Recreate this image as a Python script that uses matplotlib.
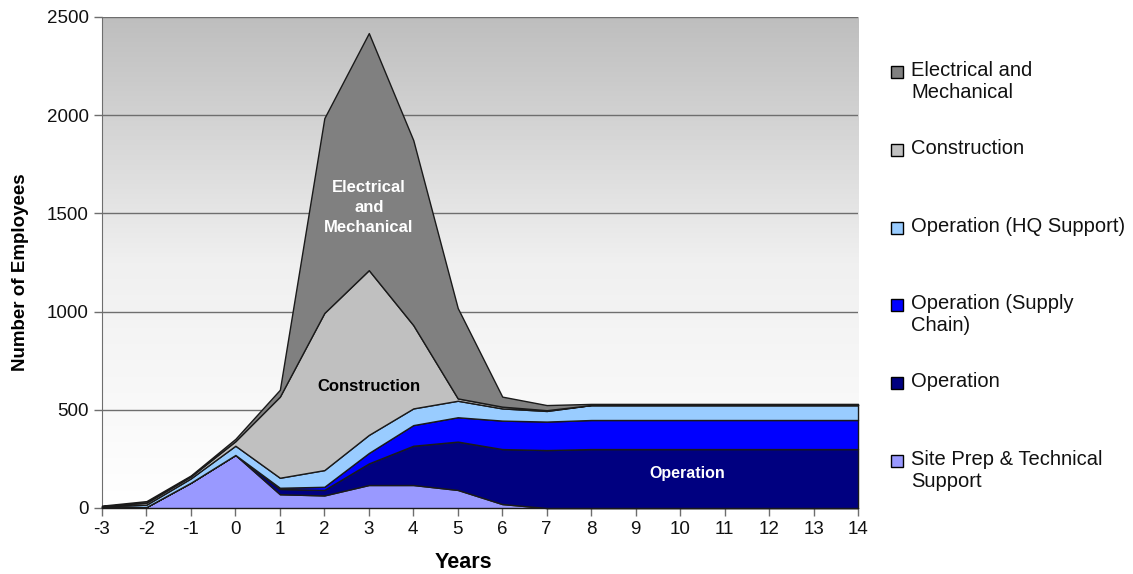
import matplotlib
matplotlib.use('Agg')
import matplotlib.pyplot as plt
from matplotlib.patches import Rectangle
import numpy as np

plt.rcParams['font.family'] = ['Liberation Sans', 'DejaVu Sans']
plt.rcParams['axes.unicode_minus'] = False

years = list(range(-3, 15))

site_prep = [3, 5, 129, 270, 70, 64, 117, 117, 92, 20, 0, 0, 0, 0, 0, 0, 0, 0]
operation = [0, 0, 0, 0, 27, 28, 110, 200, 246, 280, 295, 300, 300, 300, 300, 300, 300, 300]
supply_chain = [0, 0, 0, 0, 6, 16, 53, 105, 124, 145, 145, 148, 148, 148, 148, 148, 148, 148]
hq_support = [4, 12, 22, 47, 51, 85, 92, 85, 84, 62, 54, 76, 76, 76, 76, 76, 76, 76]
construction = [2, 10, 10, 23, 413, 800, 839, 424, 12, 9, 4, 0, 0, 0, 0, 0, 0, 0]
elec_mech = [3, 8, 5, 12, 35, 992, 1207, 942, 460, 51, 26, 6, 6, 6, 6, 6, 6, 6]

series = [site_prep, operation, supply_chain, hq_support, construction, elec_mech]
colors = ['#9999FF', '#000080', '#0000FF', '#99CCFF', '#C0C0C0', '#808080']
legend_labels = ['Electrical and\nMechanical', 'Construction', 'Operation (HQ Support)',
                 'Operation (Supply\nChain)', 'Operation', 'Site Prep & Technical\nSupport']
legend_colors = ['#808080', '#C0C0C0', '#99CCFF', '#0000FF', '#000080', '#9999FF']

fig = plt.figure(figsize=(11.33, 5.74), dpi=100)
fig.patch.set_facecolor('#FFFFFF')
ax = fig.add_axes([0.0900, 0.1150, 0.6673, 0.8554])

# gradient background: gray at top fading to white
grad = np.linspace(0, 1, 256).reshape(-1, 1)
ax.imshow(grad, extent=[-3, 14, 0, 2500], aspect='auto', origin='lower',
          cmap=matplotlib.colors.LinearSegmentedColormap.from_list('bg', ['#FFFFFF', '#F0F0F0', '#BEBEBE']),
          zorder=0)

polys = ax.stackplot(years, *series, colors=colors, edgecolor='#1A1A1A', linewidth=1.0, zorder=3)
for p in polys:
    p.set_clip_on(False)

ax.set_xlim(-3, 14)
ax.set_ylim(0, 2500)
ax.set_xticks(years)
ax.set_yticks([0, 500, 1000, 1500, 2000, 2500])
for y in [500, 1000, 1500, 2000, 2500]:
    ax.axhline(y, color='#6E6E6E', linewidth=1.0, zorder=1)

ax.tick_params(axis='both', direction='out', length=6, width=1, color='#6E6E6E',
               labelsize=13.5, labelcolor='#111111')
for side in ['top', 'right']:
    ax.spines[side].set_visible(False)
ax.spines['left'].set_color('#6E6E6E')
ax.spines['bottom'].set_color('#6E6E6E')

ax.set_xlabel('Years', fontsize=15.5, fontweight='bold')
ax.xaxis.set_label_coords(0.4775, -0.09)
ax.set_ylabel('Number of Employees', fontsize=13.5, fontweight='bold')
ax.yaxis.set_label_coords(-0.096, 0.48)

ax.text(3, 1530, 'Electrical\nand\nMechanical', color='white', fontsize=12, fontweight='bold',
        ha='center', va='center', linespacing=1.45, zorder=5)
ax.text(3, 620, 'Construction', color='black', fontsize=12, fontweight='bold',
        ha='center', va='center', zorder=5)
ax.text(10.15, 175, 'Operation', color='white', fontsize=11.5, fontweight='bold',
        ha='center', va='center', zorder=5)

# legend on the right, entries evenly spaced by first line
W, H = 1133, 574
y0 = 72
for i, (lab, col) in enumerate(zip(legend_labels, legend_colors)):
    ypx = y0 + i * 77.8
    fig.add_artist(Rectangle((891 / W, 1 - (ypx + 6) / H), 12 / W, 12 / H,
                             transform=fig.transFigure, facecolor=col, edgecolor='black',
                             linewidth=1.0))
    fig.text(911 / W, 1 - (ypx - 11) / H, lab, fontsize=14.5, va='top', ha='left',
             linespacing=1.2, color='#111111')

fig.savefig('out.png', dpi=100, facecolor='#FFFFFF')
